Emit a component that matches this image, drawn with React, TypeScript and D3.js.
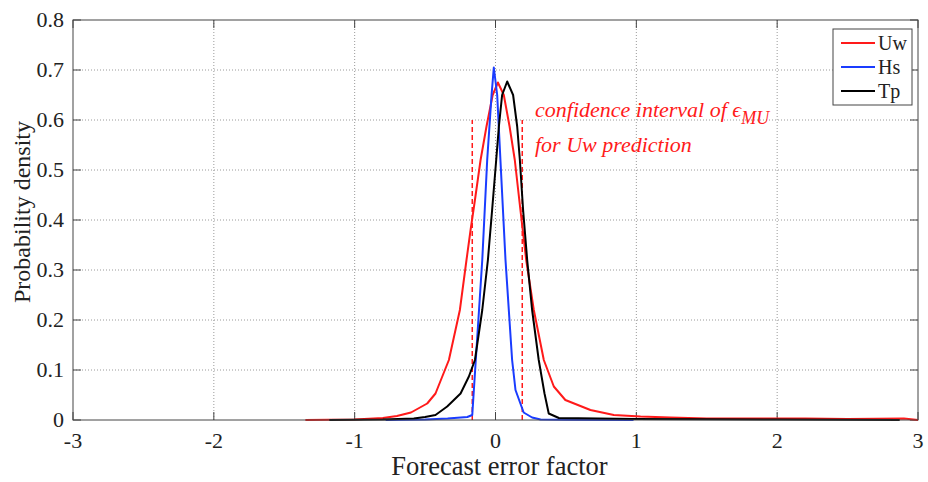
import React from "react";
import * as d3 from "d3";

const xTicks = [-3, -2, -1, 0, 1, 2, 3];
const yTicks = [0, 0.1, 0.2, 0.3, 0.4, 0.5, 0.6, 0.7, 0.8];

const uwX = [-1.35, -1.0, -0.8, -0.7, -0.6, -0.485, -0.426, -0.331, -0.253, -0.206, -0.177, -0.146, -0.106, -0.064, -0.02, 0.017, 0.059, 0.1, 0.137, 0.177, 0.218, 0.272, 0.343, 0.414, 0.496, 0.674, 0.84, 1.03, 1.24, 1.5, 2.2, 2.5, 2.9, 3.0];
const uwY = [0, 0.001, 0.004, 0.008, 0.015, 0.033, 0.053, 0.12, 0.22, 0.32, 0.38, 0.44, 0.52, 0.587, 0.65, 0.675, 0.65, 0.587, 0.52, 0.42, 0.32, 0.22, 0.12, 0.067, 0.04, 0.02, 0.01, 0.007, 0.005, 0.003, 0.003, 0.002, 0.003, 0];

const hsX = [-0.78, -0.5, -0.34, -0.2, -0.165, -0.14, -0.094, -0.059, -0.028, -0.012, 0.012, 0.035, 0.071, 0.118, 0.142, 0.2, 0.26, 0.32, 0.5, 0.98];
const hsY = [0, 0.001, 0.003, 0.006, 0.01, 0.12, 0.32, 0.52, 0.65, 0.705, 0.65, 0.52, 0.32, 0.12, 0.06, 0.015, 0.005, 0.001, 0.0005, 0];

const tpX = [-1.18, -0.8, -0.58, -0.5, -0.426, -0.343, -0.248, -0.189, -0.146, -0.094, -0.054, -0.024, 0.005, 0.024, 0.047, 0.083, 0.125, 0.154, 0.173, 0.196, 0.225, 0.26, 0.307, 0.348, 0.378, 0.45, 1.0, 2.0, 2.87];
const tpY = [0, 0.001, 0.003, 0.006, 0.01, 0.027, 0.053, 0.087, 0.12, 0.22, 0.32, 0.42, 0.52, 0.587, 0.65, 0.677, 0.65, 0.587, 0.52, 0.42, 0.32, 0.22, 0.12, 0.053, 0.013, 0.004, 0.002, 0.001, 0];

const seriesNames = ["Uw", "Hs", "Tp"];
const seriesColors = ["#ff1a1a", "#1a3cff", "#000000"];
const ciBounds = [-0.165, 0.19];
const ciTop = 0.6;

export default function App() {
  const W = 928, H = 482;
  const L = 73, R = 918, T = 20, B = 420;
  const x = d3.scaleLinear().domain([-3, 3]).range([L, R]);
  const y = d3.scaleLinear().domain([0, 0.8]).range([B, T]);
  const series = [
    uwX.map((v, i) => [v, uwY[i]]),
    hsX.map((v, i) => [v, hsY[i]]),
    tpX.map((v, i) => [v, tpY[i]]),
  ] as [number, number][][];
  const line = d3.line<[number, number]>().x(d => x(d[0])).y(d => y(d[1]));
  const font = "'Liberation Serif', 'Times New Roman', serif";
  const axisCol = "#444";
  return (
    <svg width={W} height={H} style={{ position: "absolute", left: 0, top: 0, background: "#fff" }} fontFamily={font}>
      <rect x={0} y={0} width={W} height={H} fill="#fff" />
      {xTicks.slice(1, -1).map(t => (
        <line key={"gx" + t} x1={x(t)} x2={x(t)} y1={T} y2={B} stroke="#9a9a9a" strokeWidth={1} strokeDasharray="1,2" />
      ))}
      {yTicks.slice(1, -1).map(t => (
        <line key={"gy" + t} x1={L} x2={R} y1={y(t)} y2={y(t)} stroke="#9a9a9a" strokeWidth={1} strokeDasharray="1,2" />
      ))}
      {xTicks.map(t => (
        <g key={"tx" + t}>
          <line x1={x(t)} x2={x(t)} y1={B} y2={B - 8} stroke={axisCol} />
          <line x1={x(t)} x2={x(t)} y1={T} y2={T + 8} stroke={axisCol} />
          <text x={x(t)} y={B + 28} textAnchor="middle" fontSize={22} fill="#222">{t}</text>
        </g>
      ))}
      {yTicks.map(t => (
        <g key={"ty" + t}>
          <line x1={L} x2={L + 8} y1={y(t)} y2={y(t)} stroke={axisCol} />
          <line x1={R} x2={R - 8} y1={y(t)} y2={y(t)} stroke={axisCol} />
          <text x={L - 9} y={y(t) + 7} textAnchor="end" fontSize={22} fill="#222">{t === 0 ? "0" : t.toFixed(1)}</text>
        </g>
      ))}
      {ciBounds.map(b => (
        <line key={"ci" + b} x1={x(b)} x2={x(b)} y1={y(0)} y2={y(ciTop)} stroke="#ff1a1a" strokeWidth={1.5} strokeDasharray="5,3" />
      ))}
      {series.map((s, i) => (
        <path key={seriesNames[i]} d={line(s) || ""} fill="none" stroke={seriesColors[i]} strokeWidth={2} strokeLinejoin="round" />
      ))}
      <rect x={L} y={T} width={R - L} height={B - T} fill="none" stroke={axisCol} strokeWidth={1} />
      <text x={535} y={117} fontSize={22} fontStyle="italic" fill="#ff1a1a">
        confidence interval of ϵ<tspan dy={7} fontSize={18}>MU</tspan>
      </text>
      <text x={535} y={152} fontSize={22} fontStyle="italic" fill="#ff1a1a">for Uw prediction</text>
      <rect x={833} y={29} width={79} height={76} fill="#fff" stroke={axisCol} strokeWidth={1} />
      {seriesNames.map((n, i) => (
        <g key={"lg" + n}>
          <line x1={841} x2={875} y1={43 + i * 24} y2={43 + i * 24} stroke={seriesColors[i]} strokeWidth={2} />
          <text x={878} y={50 + i * 24} fontSize={20} fill="#222">{n}</text>
        </g>
      ))}
      <text x={(L + R) / 2 + 4} y={475} textAnchor="middle" fontSize={26.5} fill="#222">Forecast error factor</text>
      <text transform={`translate(30, 212) rotate(-90)`} textAnchor="middle" fontSize={24} fill="#222">Probability density</text>
    </svg>
  );
}
